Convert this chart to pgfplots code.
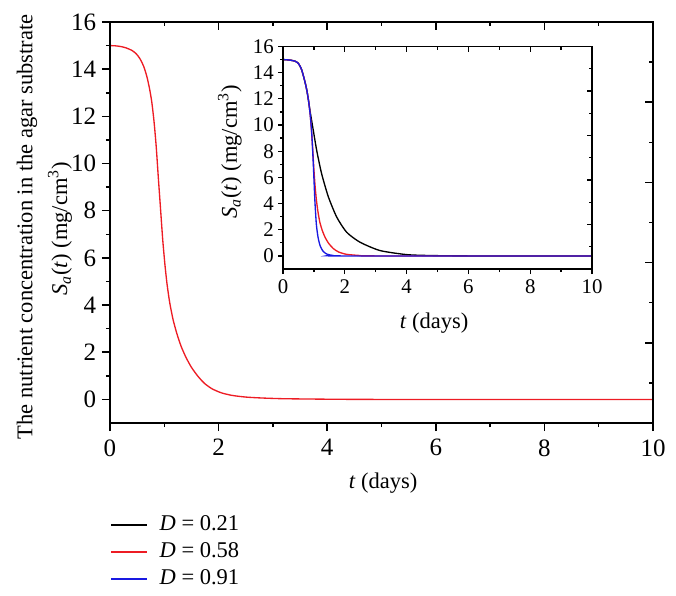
\documentclass[border=0pt]{standalone}
\usepackage{fontspec}
\setmainfont{Liberation Serif}
\usepackage{pgfplots}
\pgfplotsset{compat=1.18}

\definecolor{cred}{RGB}{237,28,36}
\definecolor{cblue}{RGB}{25,25,225}

% S_a(t) (mg/cm^3)
\newcommand{\Sat}{\textit{S}\textsubscript{\textit{a}}(\textit{t}) (mg/cm\textsuperscript{3})}

\pgfplotsset{
  frame/.style={
    scale only axis, clip=false,
    minor x tick num=1, minor y tick num=1,
    tick style={black},
    /pgf/number format/assume math mode=true,
  },
}

\begin{document}
\begin{tikzpicture}
\useasboundingbox (-66pt,-103.2pt) rectangle (339.6pt,253.8pt);

% main plot
\begin{axis}[frame,
    width=325.8pt, height=240.6pt,
    xmin=0, xmax=10, ymin=-1, ymax=16,
    xtick={0,2,...,10}, ytick={0,2,...,16},
    xtick pos=left, ytick pos=left, tick align=outside,
    major tick length=4.8pt, minor tick length=2.4pt,
    axis line style={line width=0.9pt},
    tick style={line width=0.9pt},
    ticklabel style={font=\fontsize{15}{17}\selectfont},
    xticklabel style={yshift=-1.5pt},
    legend style={draw=none, fill=none, at={(axis description cs:0,-0.232)},
        anchor=north west, font=\fontsize{13.5}{15}\selectfont,
        row sep=5.2pt, inner sep=0pt,
        nodes={inner sep=0pt, text height=8.5pt, text depth=2.5pt},
        /tikz/every odd column/.style={column sep=7pt}},
    legend cell align=left,
    legend image code/.code={\draw[#1] (0pt,0.3pt) -- (21.6pt,0.3pt);},
]
\addplot[cred, line width=0.8pt, smooth, tension=0.4, forget plot] coordinates {
    (0,15.0) (0.1,14.99) (0.2,14.96) (0.3,14.9) (0.4,14.8) (0.48,14.66)
    (0.55,14.45) (0.62,14.12) (0.68,13.68) (0.73,13.15) (0.77,12.6) (0.81,11.8)
    (0.85,10.75) (0.89,9.4) (0.93,8.1) (0.97,6.8) (1.01,5.75) (1.05,4.9)
    (1.1,4.1) (1.16,3.4) (1.23,2.8) (1.31,2.25) (1.4,1.78) (1.5,1.36)
    (1.62,0.98) (1.74,0.68) (1.88,0.45) (2.05,0.28) (2.25,0.17) (2.5,0.1)
    (2.8,0.06) (3.2,0.03) (4,0.01) (5,0) (10,0)
};
\addlegendimage{black, line width=1pt}
\addlegendimage{cred, line width=1pt}
\addlegendimage{cblue, line width=1pt}
\legend{\textit{D} = 0.21, \textit{D} = 0.58, \textit{D} = 0.91}

\node[rotate=90, font=\fontsize{13.5}{15}\selectfont] at (axis description cs:-0.153,0.489)
    {The nutrient concentration in the agar substrate};
\node[rotate=90, font=\fontsize{13.5}{15}\selectfont] at (axis description cs:-0.092,0.484) {\Sat};
\node[font=\fontsize{13.5}{15}\selectfont] at (axis description cs:0.503,-0.150) {\textit{t} (days)};
\end{axis}

% mirrored ticks of main plot (top and right)
\begin{axis}[frame,
    width=325.8pt, height=240.6pt,
    xmin=0, xmax=10, ymin=0, ymax=10,
    xtick={0,2,...,10}, ytick={0,2,...,10},
    xtick pos=right, ytick pos=right, tick align=inside,
    xticklabels={}, yticklabels={},
    major tick length=4.8pt, minor tick length=2.4pt,
    axis line style={line width=0.9pt},
    tick style={line width=0.9pt},
]
\end{axis}

% inset
\begin{axis}[frame,
    at={(103.8pt,92.4pt)},
    width=185.4pt, height=133.5pt,
    xmin=0, xmax=10, ymin=-1, ymax=16,
    xtick={0,2,...,10}, ytick={0,2,...,16},
    xtick pos=left, ytick pos=left, tick align=outside,
    major tick length=3pt, minor tick length=1.8pt,
    axis line style={line width=0.75pt},
    tick style={line width=0.75pt},
    ticklabel style={font=\fontsize{12.5}{14}\selectfont},
    yticklabel style={xshift=1pt},
]
\addplot[black, line width=0.8pt, smooth, tension=0.4] coordinates {
    (0,15) (0.2,14.97) (0.39,14.88) (0.5,14.7) (0.6,14.25) (0.7,13.4)
    (0.77,12.67) (0.83,11.8) (0.88,11.0) (0.93,10.3) (0.98,9.6) (1.09,8.07)
    (1.25,6.28) (1.47,4.5) (1.74,2.96) (2.06,1.81) (2.49,1.05) (3.14,0.41)
    (4.0,0.1) (4.76,0.03) (6,0) (10,0)
};
\addplot[cred, line width=0.8pt, smooth, tension=0.4] coordinates {
    (0,15) (0.2,14.97) (0.39,14.88) (0.5,14.7) (0.6,14.25) (0.7,13.4)
    (0.77,12.67) (0.83,11.8) (0.88,10.8) (0.92,9.6) (0.96,8.2) (1.0,6.6)
    (1.04,5.3) (1.08,4.3) (1.13,3.4) (1.19,2.6) (1.27,1.95) (1.36,1.43)
    (1.48,0.95) (1.63,0.56) (1.8,0.3) (2.06,0.12) (2.5,0.03) (3,0) (10,0)
};
\addplot[cblue, line width=0.8pt, smooth, tension=0.4] coordinates {
    (0,15) (0.2,14.97) (0.39,14.88) (0.5,14.7) (0.6,14.25) (0.7,13.4)
    (0.77,12.67) (0.83,11.8) (0.88,10.8) (0.93,9.4) (0.98,7.05) (1.03,4.3)
    (1.08,2.4) (1.14,1.35) (1.21,0.72) (1.3,0.35) (1.42,0.14) (1.6,0.04)
    (1.9,0) (10,0)
};
\node[rotate=90, font=\fontsize{13.5}{15}\selectfont] at (axis description cs:-0.172,0.526) {\Sat};
\node[font=\fontsize{13.5}{15}\selectfont] at (axis description cs:0.489,-0.243) {\textit{t} (days)};
\end{axis}

% mirrored ticks of inset (top and right)
\begin{axis}[frame,
    at={(103.8pt,92.4pt)},
    width=185.4pt, height=133.5pt,
    xmin=0, xmax=10, ymin=0, ymax=10,
    xtick={0,2,...,10}, ytick={0,2,...,10},
    xtick pos=right, ytick pos=right, tick align=inside,
    xticklabels={}, yticklabels={},
    major tick length=3pt, minor tick length=1.8pt,
    axis line style={line width=0.75pt},
    tick style={line width=0.75pt},
]
\end{axis}
\end{tikzpicture}
\end{document}
